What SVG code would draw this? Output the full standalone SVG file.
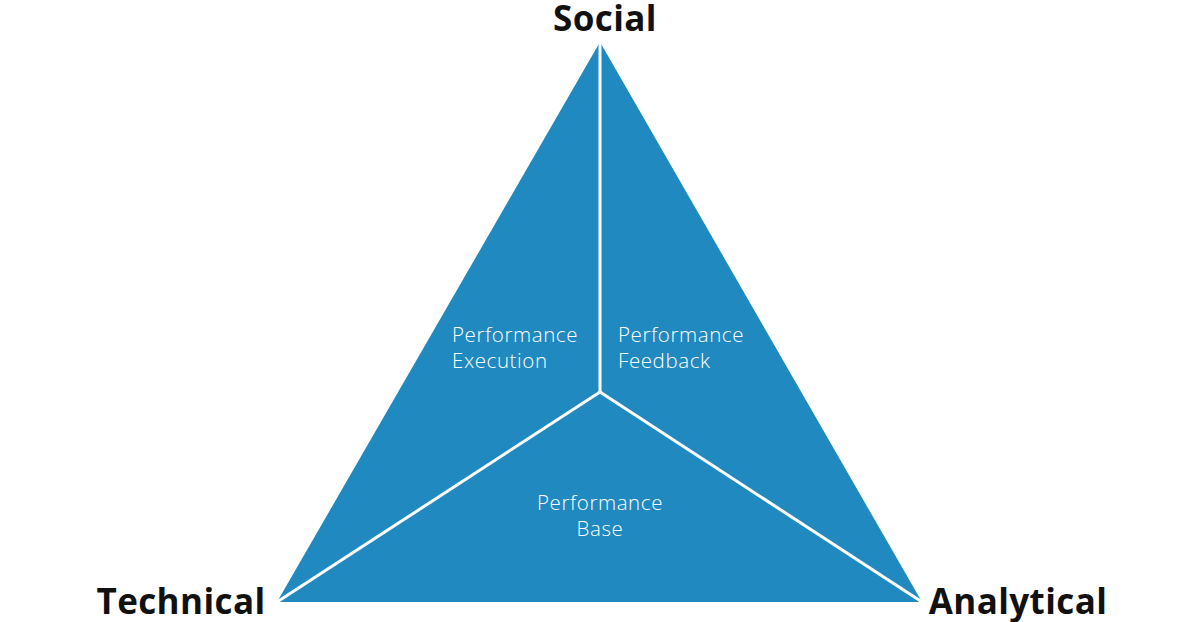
<svg xmlns="http://www.w3.org/2000/svg" width="1200" height="622" viewBox="0 0 1200 622">
<style>
.region{fill:#2089BF;stroke:none}
.sep{stroke:#ffffff;stroke-width:3;fill:none;stroke-linecap:round}
.lbl{font-family:"Open Sans","Lato",sans-serif;font-weight:300;font-size:20.5px;letter-spacing:0.6px;fill:#ffffff}
.head{font-family:"Open Sans","Lato",sans-serif;font-weight:700;font-size:35px;letter-spacing:0.4px;fill:#111111}
</style>
<rect width="1200" height="622" fill="#ffffff"/>
<g id="execution">
<polygon class="region" points="600,42 600,392 277,602"/>
<text class="lbl" x="452" y="342">Performance</text>
<text class="lbl" x="452" y="368">Execution</text>
</g>
<g id="feedback">
<polygon class="region" points="600,42 922,602 600,392"/>
<text class="lbl" x="618" y="342">Performance</text>
<text class="lbl" x="618" y="368">Feedback</text>
</g>
<g id="base">
<polygon class="region" points="277,602 600,392 922,602"/>
<text class="lbl" x="600" y="510" text-anchor="middle">Performance</text>
<text class="lbl" x="600" y="536" text-anchor="middle">Base</text>
</g>
<g id="connectors">
<line class="sep" x1="600" y1="42" x2="600" y2="392"/>
<line class="sep" x1="600" y1="392" x2="277" y2="602"/>
<line class="sep" x1="600" y1="392" x2="922" y2="602"/>
</g>
<g id="social"><text class="head" x="605" y="31" text-anchor="middle">Social</text></g>
<g id="technical"><text class="head" x="181" y="614" text-anchor="middle">Technical</text></g>
<g id="analytical"><text class="head" x="1018" y="614" text-anchor="middle">Analytical</text></g>
</svg>
